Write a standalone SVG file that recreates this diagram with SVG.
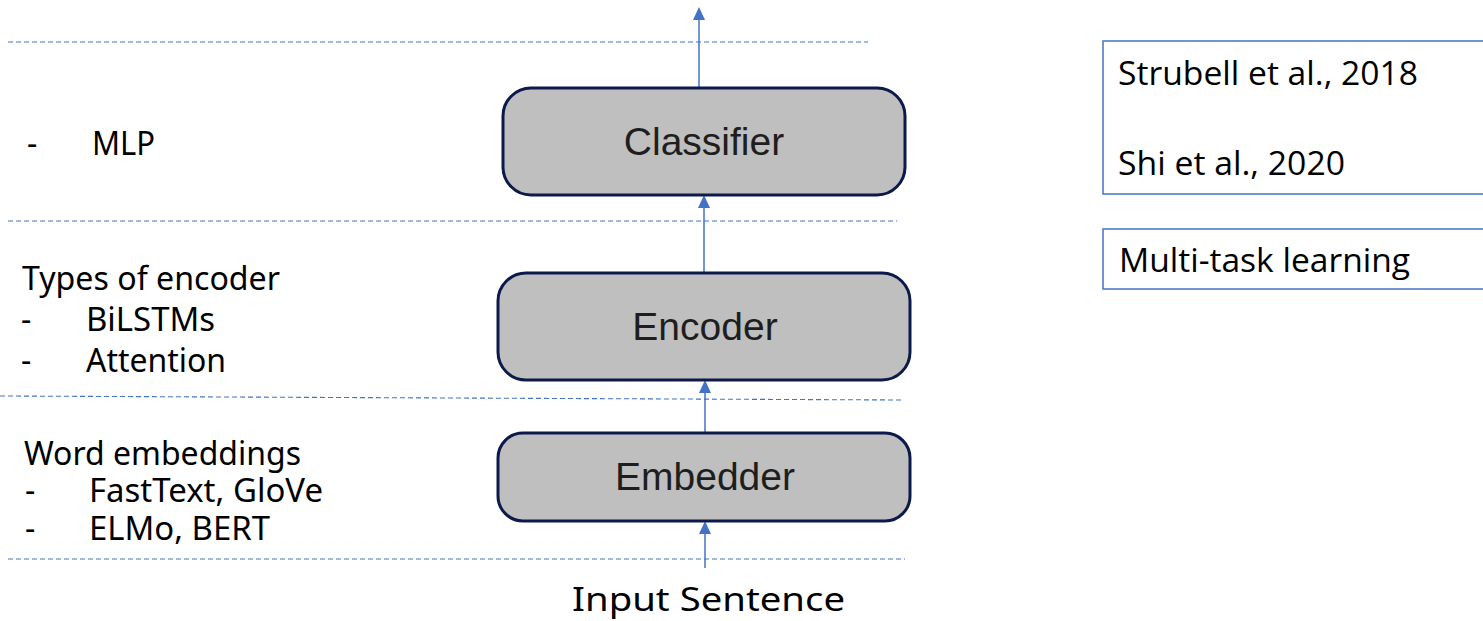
<svg xmlns="http://www.w3.org/2000/svg" width="1483" height="621" viewBox="0 0 1483 621">
<style>
.bg{fill:#ffffff}
.dash{stroke:#4472c4;stroke-width:1.1;stroke-dasharray:5 3;fill:none}
.node{fill:#bfbfbf;stroke:#0c1a4b;stroke-width:3}
.nlabel{font-family:"Liberation Sans",Arial,sans-serif;font-size:39px;fill:#1e1e1e;text-anchor:middle}
.conn{stroke:#4472c4;stroke-width:1.5;fill:none}
.side{font-family:"Noto Sans","Open Sans",sans-serif;font-size:32px;fill:#000}
.ref{font-family:"Open Sans","Noto Sans",sans-serif;font-size:33px;fill:#000}
.refbox{fill:none;stroke:#4472c4;stroke-width:1.5}
</style>
<rect class="bg" x="0" y="0" width="1483" height="621"/>

<g id="separators">
<line class="dash" x1="8" y1="42" x2="868" y2="42"/>
<line class="dash" x1="8" y1="221" x2="897" y2="221"/>
<line class="dash" x1="0" y1="396" x2="902" y2="400"/>
<line class="dash" x1="8" y1="559" x2="905" y2="559"/>
</g>

<g id="connectors">
<line class="conn" x1="699" y1="88" x2="699" y2="20"/>
<path d="M693,20 L699,7 L705,20 Z" fill="#4472c4"/>
<line class="conn" x1="704" y1="273" x2="704" y2="208"/>
<path d="M698,208 L704,195 L710,208 Z" fill="#4472c4"/>
<line class="conn" x1="705" y1="433" x2="705" y2="393"/>
<path d="M699,393 L705,380 L711,393 Z" fill="#4472c4"/>
<line class="conn" x1="705" y1="568" x2="705" y2="534"/>
<path d="M699,534 L705,521 L711,534 Z" fill="#4472c4"/>
</g>

<g id="classifier">
<rect class="node" x="503" y="88" width="402" height="107" rx="28"/>
<text class="nlabel" x="704" y="155">Classifier</text>
</g>
<g id="encoder">
<rect class="node" x="498" y="273" width="412" height="107" rx="28"/>
<text class="nlabel" x="705" y="340">Encoder</text>
</g>
<g id="embedder">
<rect class="node" x="498" y="433" width="412" height="88" rx="25"/>
<text class="nlabel" x="705" y="490">Embedder</text>
</g>

<g id="input">
<text class="side" x="572" y="611" font-size="38" textLength="273" lengthAdjust="spacingAndGlyphs">Input Sentence</text>
</g>

<g id="classifier-notes">
<text class="side" x="27" y="155">-</text>
<text class="side" x="92" y="155" font-size="33" textLength="63" lengthAdjust="spacingAndGlyphs">MLP</text>
</g>

<g id="encoder-notes">
<text class="side" x="22" y="290" textLength="258" lengthAdjust="spacingAndGlyphs">Types of encoder</text>
<text class="side" x="21" y="331">-</text>
<text class="side" x="86" y="331" textLength="129" lengthAdjust="spacingAndGlyphs">BiLSTMs</text>
<text class="side" x="21" y="372">-</text>
<text class="side" x="86" y="372" textLength="140" lengthAdjust="spacingAndGlyphs">Attention</text>
</g>

<g id="embedder-notes">
<text class="side" x="24" y="465" textLength="277" lengthAdjust="spacingAndGlyphs">Word embeddings</text>
<text class="side" x="25" y="502">-</text>
<text class="side" x="89" y="502" textLength="234" lengthAdjust="spacingAndGlyphs">FastText, GloVe</text>
<text class="side" x="25" y="540">-</text>
<text class="side" x="89" y="540" textLength="181" lengthAdjust="spacingAndGlyphs">ELMo, BERT</text>
</g>

<g id="references">
<rect class="refbox" x="1103" y="41" width="400" height="153"/>
<text class="ref" x="1118" y="85" textLength="300" lengthAdjust="spacingAndGlyphs">Strubell et al., 2018</text>
<text class="ref" x="1118" y="175" textLength="227" lengthAdjust="spacingAndGlyphs">Shi et al., 2020</text>
</g>
<g id="multitask">
<rect class="refbox" x="1103" y="229" width="400" height="60"/>
<text class="ref" x="1119" y="272" textLength="291" lengthAdjust="spacingAndGlyphs">Multi-task learning</text>
</g>
</svg>
